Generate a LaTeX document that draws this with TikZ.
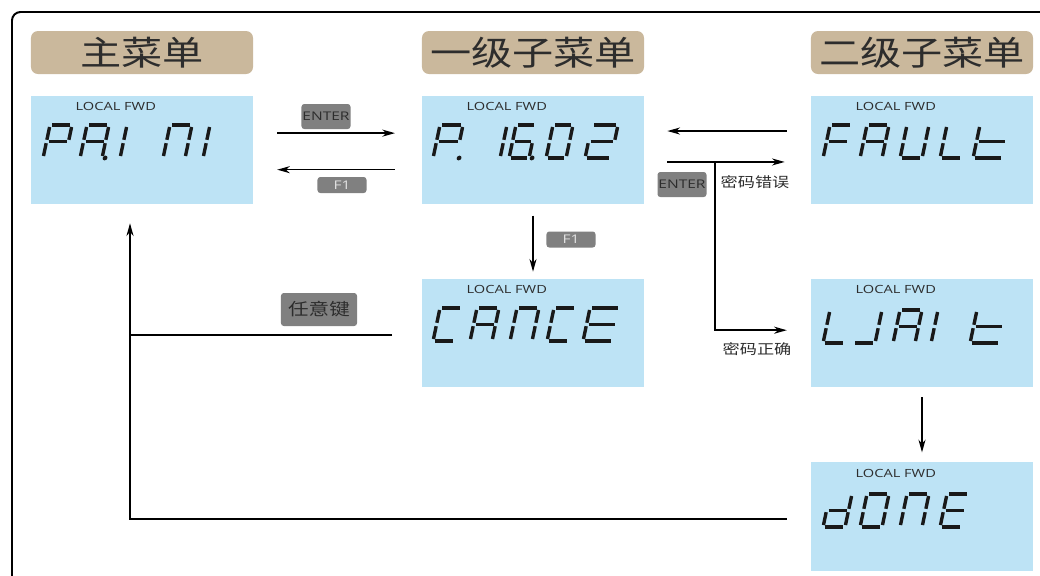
\documentclass[tikz,border=0pt]{standalone}
\usepackage{fontspec}
\usepackage{tikz}
\usetikzlibrary{arrows.meta}
\newfontfamily\cjk[FakeStretch=1.22]{Noto Sans CJK SC}
\newfontfamily\lcd[FakeStretch=1.3]{Open Sans}
\definecolor{headtan}{RGB}{202,184,156}
\definecolor{lcdblue}{RGB}{189,227,245}
\definecolor{keygray}{RGB}{128,128,128}
\definecolor{keytext}{RGB}{225,225,225}
\definecolor{ink}{RGB}{45,45,45}
\newcommand{\sega}{\draw[seg] (2,0) -- (\W-2,0);}
\newcommand{\segb}{\draw[seg] (\W,2) -- (\W,14.8);}
\newcommand{\segc}{\draw[seg] (\W,18.2) -- (\W,31);}
\newcommand{\segd}{\draw[seg] (2,33) -- (\W-2,33);}
\newcommand{\sege}{\draw[seg] (0,18.2) -- (0,31);}
\newcommand{\segf}{\draw[seg] (0,2) -- (0,14.8);}
\newcommand{\segg}{\draw[seg] (2,16.5) -- (\W-2,16.5);}
\newcommand{\segp}{\fill[black!90] (\W+3,33) circle (1.7pt);}
\newcommand{\segchar}[3][22]{\begin{scope}[shift={(#2)}, xslant=0.21]\def\W{#1}\foreach \s in {#3} {\csname seg\s\endcsname}\end{scope}}

\begin{document}
\begin{tikzpicture}[x=0.025cm, y=-0.025cm, every node/.style={inner sep=0pt},
	head/.style={fill=headtan, rounded corners=5pt, minimum width=5.55cm, minimum height=1.075cm, text=ink, font=\cjk\fontsize{24}{24}\selectfont},
	screen/.style={fill=lcdblue, minimum width=5.55cm, minimum height=2.7cm},
	tag/.style={text=ink, font=\lcd\fontsize{8}{8}\selectfont},
	btn/.style={fill=keygray, rounded corners=2pt, minimum width=1.225cm, font=\lcd\fontsize{8.5}{8.5}\selectfont},
	note/.style={text=ink, font=\cjk\fontsize{10}{10}\selectfont},
	seg/.style={line width=2.4pt, black!90},
	arr/.style={-{Stealth[length=9pt,width=5pt,inset=2.8pt]}, line width=1pt},
	link/.style={line width=1.3pt}]
	\useasboundingbox (0,0) rectangle (1040,575);
	\clip (0,0) rectangle (1040,575);
	\draw[line width=1.4pt, rounded corners=6pt] (12,12) rectangle (1070,610);
	\node[head] (hmain) at (142,52.5) {主菜单};
	\node[head] (hsub1) at (533,52.5) {一级子菜单};
	\node[head] (hsub2) at (922,52.5) {二级子菜单};
	\node[screen] (main) at (142,150) {};
	\node[screen] (sub1) at (533,150) {};
	\node[screen] (fault) at (922,150) {};
	\node[screen] (cancel) at (533,333) {};
	\node[screen] (wait) at (922,333) {};
	\node[screen] (done) at (922,516.5) {};
	\foreach \b in {main,sub1,fault,cancel,wait,done} {\node[tag] (tag-\b) at ([xshift=60.5pt,yshift=-7.8pt]\b.north west) {LOCAL FWD};}
	\segchar{50,125}{a,b,e,f,g} \segchar{87,125}{a,b,c,e,f,g,p} \segchar{127,125}{e,f} \segchar{170,125}{a,b,c,e,f} \segchar{210,125}{e,f}
	\segchar[23]{440,125}{a,b,e,f,g,p} \segchar{507,125}{e,f} \segchar[20]{516,125}{a,c,d,e,f,g,p} \segchar[20]{553,125}{a,b,c,d,e,f} \segchar[26]{592,125}{a,b,d,e,g}
	\segchar{830,125}{a,e,f,g} \segchar{867,125}{a,b,c,e,f,g} \segchar{907,125}{b,c,d,e,f} \segchar{947,125}{d,e,f} \segchar[30]{980,125}{d,e,f,g}
	\segchar{440,308}{a,d,e,f} \segchar{477,308}{a,b,c,e,f,g} \segchar{517,308}{a,b,c,e,f} \segchar{554,308}{a,d,e,f} \segchar[30]{590,308}{a,d,e,f,g}
	\segchar{830,310}{d,e,f} \segchar{860,310}{b,c,d} \segchar{900,310}{a,b,c,e,f,g} \segchar{938,310}{e,f} \segchar[30]{977,310}{d,e,f,g}
	\segchar{830,494}{b,c,d,e,g} \segchar{867,494}{a,b,c,d,e,f} \segchar{907,494}{a,b,c,e,f} \segchar{947,494}{a,d,e,f,g}
	\node[btn, text=ink, minimum height=0.625cm] (enter1) at (326,116.5) {ENTER};
	\node[btn, text=keytext, minimum height=0.4cm] (f1a) at (342,185) {F1};
	\node[btn, text=ink, minimum height=0.625cm] (enter2) at (682,184.5) {ENTER};
	\node[btn, text=keytext, minimum height=0.4cm] (f1b) at (571,239.5) {F1};
	\node[btn, text=ink, minimum width=1.9cm, minimum height=0.825cm, font=\cjk\fontsize{12}{12}\selectfont] (anykey) at (319,309.5) {任意键};
	\node[note] (wrong) at (755,182) {密码错误};
	\node[note] (right) at (757,349) {密码正确};
	\coordinate (rise) at (130,0);
	\coordinate (split) at (715,162);
	\draw[arr, shorten <=17pt, shorten >=19pt] ([yshift=12pt]main.east) -- ([yshift=12pt]sub1.west);
	\draw[arr, shorten <=19pt, shorten >=17pt] ([yshift=-14pt]sub1.west) -- ([yshift=-14pt]main.east);
	\draw[arr, shorten <=17pt, shorten >=16.4pt] ([yshift=13.5pt]fault.west) -- ([yshift=13.5pt]sub1.east);
	\draw[arr, shorten <=16.4pt, shorten >=18.5pt] ([yshift=-8.5pt]sub1.east) -- ([yshift=-8.5pt]fault.west);
	\draw[arr, line width=1.2pt, shorten >=17pt] (split) |- ([yshift=2pt]wait.west);
	\draw[arr, shorten <=8pt, shorten >=5pt] (sub1.south) -- (cancel.north);
	\draw[arr, shorten <=7pt, shorten >=7pt] (wait.south) -- (done.north);
	\draw[link, shorten <=21pt] ([yshift=-1.4pt]cancel.west) -- ([yshift=-1.4pt]cancel.west -| rise);
	\draw[arr, line width=1.3pt, shorten <=17pt, shorten >=13.5pt] ([yshift=-1.8pt]done.west) -| (rise |- main.south);
\end{tikzpicture}
\end{document}
